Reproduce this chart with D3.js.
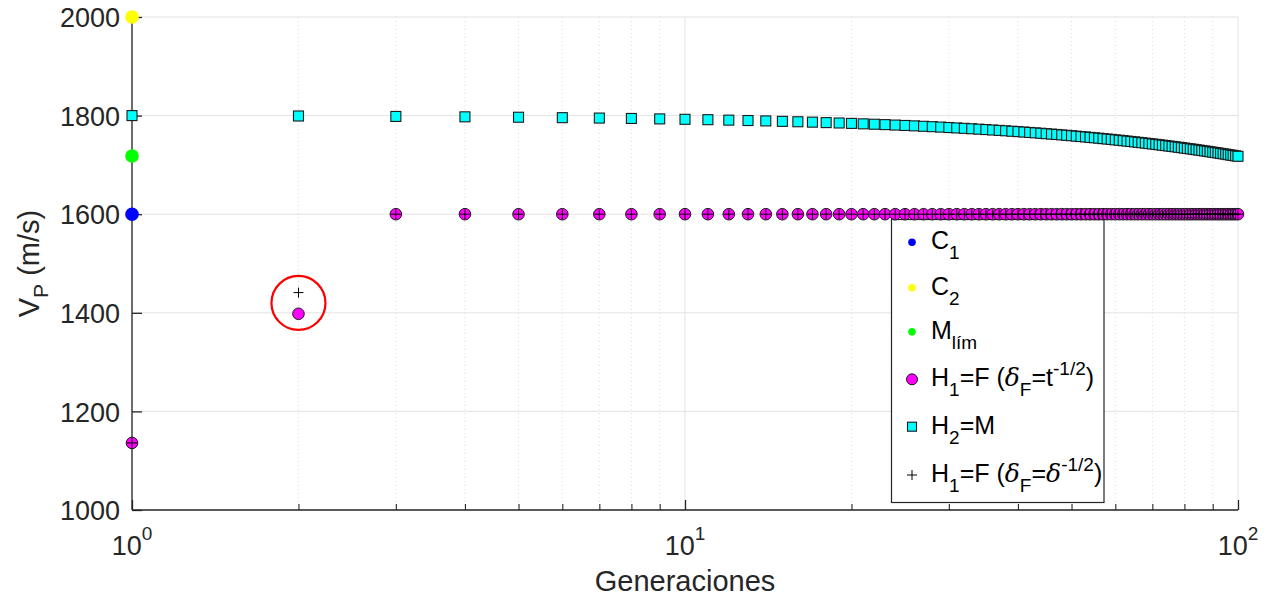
<!DOCTYPE html>
<html>
<head>
<meta charset="utf-8">
<script src="https://cdn.jsdelivr.net/npm/d3@7"></script>
<style>
  html, body { margin: 0; padding: 0; background: #fff; }
  svg { display: block; font-family: "Liberation Sans", Arial, Helvetica, sans-serif; }
</style>
</head>
<body>
<svg id="chart" width="1268" height="602"></svg>
<script>
// Generations on the x axis (1 … 100)
const generations = d3.range(1, 101);

// Reference single points at generation 1
const c1Value = 1600;
const c2Value = 2000;
const mLimValue = 1718;

// H1 = F, δF = t^-1/2
const h1Values = [1136, 1398,
  1600, 1600, 1600, 1600, 1600, 1600, 1600, 1600, 1600, 1600,
  1600, 1600, 1600, 1600, 1600, 1600, 1600, 1600, 1600, 1600,
  1600, 1600, 1600, 1600, 1600, 1600, 1600, 1600, 1600, 1600,
  1600, 1600, 1600, 1600, 1600, 1600, 1600, 1600, 1600, 1600,
  1600, 1600, 1600, 1600, 1600, 1600, 1600, 1600, 1600, 1600,
  1600, 1600, 1600, 1600, 1600, 1600, 1600, 1600, 1600, 1600,
  1600, 1600, 1600, 1600, 1600, 1600, 1600, 1600, 1600, 1600,
  1600, 1600, 1600, 1600, 1600, 1600, 1600, 1600, 1600, 1600,
  1600, 1600, 1600, 1600, 1600, 1600, 1600, 1600, 1600, 1600,
  1600, 1600, 1600, 1600, 1600, 1600, 1600, 1600];

// H2 = M
const h2Values = [
  1800.0, 1799.2, 1798.3, 1797.5, 1796.7, 1795.8, 1795.0, 1794.2, 1793.3, 1792.5,
  1791.7, 1790.8, 1790.0, 1789.2, 1788.3, 1787.5, 1786.7, 1785.8, 1785.0, 1784.2,
  1783.3, 1782.5, 1781.7, 1780.8, 1780.0, 1779.2, 1778.3, 1777.5, 1776.7, 1775.8,
  1775.0, 1774.2, 1773.3, 1772.5, 1771.7, 1770.8, 1770.0, 1769.2, 1768.3, 1767.5,
  1766.7, 1765.8, 1765.0, 1764.2, 1763.3, 1762.5, 1761.7, 1760.8, 1760.0, 1759.2,
  1758.3, 1757.5, 1756.7, 1755.8, 1755.0, 1754.2, 1753.3, 1752.5, 1751.7, 1750.8,
  1750.0, 1749.2, 1748.3, 1747.5, 1746.7, 1745.8, 1745.0, 1744.2, 1743.3, 1742.5,
  1741.7, 1740.8, 1740.0, 1739.2, 1738.3, 1737.5, 1736.7, 1735.8, 1735.0, 1734.2,
  1733.3, 1732.5, 1731.7, 1730.8, 1730.0, 1729.2, 1728.3, 1727.5, 1726.7, 1725.8,
  1725.0, 1724.2, 1723.3, 1722.5, 1721.7, 1720.8, 1720.0, 1719.2, 1718.3, 1717.5];

// H1 = F, δF = δ^-1/2
const h1DeltaValues = [1136, 1441,
  1600, 1600, 1600, 1600, 1600, 1600, 1600, 1600, 1600, 1600,
  1600, 1600, 1600, 1600, 1600, 1600, 1600, 1600, 1600, 1600,
  1600, 1600, 1600, 1600, 1600, 1600, 1600, 1600, 1600, 1600,
  1600, 1600, 1600, 1600, 1600, 1600, 1600, 1600, 1600, 1600,
  1600, 1600, 1600, 1600, 1600, 1600, 1600, 1600, 1600, 1600,
  1600, 1600, 1600, 1600, 1600, 1600, 1600, 1600, 1600, 1600,
  1600, 1600, 1600, 1600, 1600, 1600, 1600, 1600, 1600, 1600,
  1600, 1600, 1600, 1600, 1600, 1600, 1600, 1600, 1600, 1600,
  1600, 1600, 1600, 1600, 1600, 1600, 1600, 1600, 1600, 1600,
  1600, 1600, 1600, 1600, 1600, 1600, 1600, 1600];

// Highlight ring around generation 2
const highlightGen = 2;
const highlightValue = 1420;

// Axis ticks
const yTicks = [1000, 1200, 1400, 1600, 1800, 2000];
const xMajorTicks = [1, 10, 100];
const xMajorExponents = ["0", "1", "2"];
const xMinorTicks = [2, 3, 4, 5, 6, 7, 8, 9, 20, 30, 40, 50, 60, 70, 80, 90];

const svg = d3.select("#chart");
const plotLeft = 132, plotRight = 1238, plotTop = 17, plotBottom = 510;
const axisColor = "#262626";

const x = d3.scaleLog().domain([1, 100]).range([plotLeft, plotRight]);
const y = d3.scaleLinear().domain([1000, 2000]).range([plotBottom, plotTop]);

// Grid
const grid = svg.append("g");
grid.selectAll(".gy").data(yTicks).join("line")
  .attr("x1", plotLeft).attr("x2", plotRight)
  .attr("y1", d => y(d)).attr("y2", d => y(d))
  .attr("stroke", "#e3e3e3").attr("stroke-width", 1);
grid.selectAll(".gxm").data(xMinorTicks).join("line")
  .attr("x1", d => x(d)).attr("x2", d => x(d))
  .attr("y1", plotTop).attr("y2", plotBottom)
  .attr("stroke", "#dcdcdc").attr("stroke-width", 1)
  .attr("stroke-dasharray", "1,3");
grid.selectAll(".gxM").data(xMajorTicks).join("line")
  .attr("x1", d => x(d)).attr("x2", d => x(d))
  .attr("y1", plotTop).attr("y2", plotBottom)
  .attr("stroke", "#e3e3e3").attr("stroke-width", 1);

// Axes via d3-axis, styled like a box-off axes
const yAxis = d3.axisLeft(y).tickValues(yTicks).tickSize(-10).tickPadding(12).tickFormat(d3.format("d"));
const gy = svg.append("g").attr("transform", `translate(${plotLeft},0)`).call(yAxis);
gy.select(".domain").attr("stroke", axisColor).attr("stroke-width", 1.3).attr("d", `M0,${plotTop}V${plotBottom}`);
gy.selectAll(".tick line").attr("stroke", axisColor).attr("stroke-width", 1.3);
gy.selectAll(".tick text").attr("fill", axisColor).attr("font-size", 27)
  .attr("font-family", "Liberation Sans, Arial, sans-serif").attr("dy", "0.36em");

const xAxis = d3.axisBottom(x).tickValues(xMajorTicks).tickSize(-10).tickFormat("");
const gx = svg.append("g").attr("transform", `translate(0,${plotBottom})`).call(xAxis);
gx.select(".domain").attr("stroke", axisColor).attr("stroke-width", 1.3).attr("d", `M${plotLeft},0H${plotRight}`);
gx.selectAll(".tick line").attr("stroke", axisColor).attr("stroke-width", 1.3);

const xMinorAxis = d3.axisBottom(x).tickValues(xMinorTicks).tickSize(-6).tickFormat("");
const gxm = svg.append("g").attr("transform", `translate(0,${plotBottom})`).call(xMinorAxis);
gxm.select(".domain").remove();
gxm.selectAll(".tick line").attr("stroke", axisColor).attr("stroke-width", 1.1);

// Power-of-ten tick labels
const xl = svg.append("g");
xMajorTicks.forEach((t, i) => {
  const txt = xl.append("text")
    .attr("x", x(t)).attr("y", 555)
    .attr("text-anchor", "middle")
    .attr("fill", axisColor).attr("font-size", 27);
  txt.append("tspan").text("10");
  txt.append("tspan").attr("dy", -15).attr("font-size", 19).text(xMajorExponents[i]);
});

// Axis titles
svg.append("text")
  .attr("x", (plotLeft + plotRight) / 2).attr("y", 591)
  .attr("text-anchor", "middle").attr("fill", axisColor).attr("font-size", 29)
  .text("Generaciones");

const yl = svg.append("text")
  .attr("transform", `translate(39,${(plotTop + plotBottom) / 2}) rotate(-90)`)
  .attr("text-anchor", "middle").attr("fill", axisColor).attr("font-size", 29);
yl.append("tspan").text("V");
yl.append("tspan").attr("dy", 9).attr("font-size", 21).text("P");
yl.append("tspan").attr("dy", -9).text(" (m/s)");

// Legend box (drawn under the markers)
const lg = svg.append("g");
lg.append("rect")
  .attr("x", 891.5).attr("y", 219.5).attr("width", 212.5).attr("height", 283)
  .attr("fill", "#fff").attr("stroke", axisColor).attr("stroke-width", 1.2);

// Series markers
const h2Data = generations.map((g, i) => ({ g, v: h2Values[i] }));
const h1Data = generations.map((g, i) => ({ g, v: h1Values[i] }));
const h1dData = generations.map((g, i) => ({ g, v: h1DeltaValues[i] }));

svg.append("g").selectAll("rect").data(h2Data).join("rect")
  .attr("x", d => x(d.g) - 5).attr("y", d => y(d.v) - 5)
  .attr("width", 10).attr("height", 10)
  .attr("fill", "#00ffff").attr("stroke", "#1a1a1a").attr("stroke-width", 1.1);

svg.append("g").selectAll("circle").data(h1Data).join("circle")
  .attr("cx", d => x(d.g)).attr("cy", d => y(d.v)).attr("r", 5.8)
  .attr("fill", "#ff00ff").attr("stroke", "#1a1a1a").attr("stroke-width", 1);

svg.append("g").selectAll("path").data(h1dData).join("path")
  .attr("d", d => `M${x(d.g) - 5},${y(d.v)}H${x(d.g) + 5}M${x(d.g)},${y(d.v) - 5}V${y(d.v) + 5}`)
  .attr("stroke", "#000").attr("stroke-width", 1).attr("fill", "none");

const singles = [
  { v: c2Value, c: "#ffff00" },
  { v: mLimValue, c: "#00ff00" },
  { v: c1Value, c: "#0000ff" }
];
svg.append("g").selectAll("circle").data(singles).join("circle")
  .attr("cx", x(1)).attr("cy", d => y(d.v)).attr("r", 6.8)
  .attr("fill", d => d.c);

// Highlight ring
svg.append("circle")
  .attr("cx", x(highlightGen)).attr("cy", y(highlightValue)).attr("r", 27)
  .attr("fill", "none").attr("stroke", "#ff0000").attr("stroke-width", 2.2);

// Legend entries
const mx = 912, tx = 931;
const rowY = [242.3, 287.7, 331.7, 379.3, 426.7, 475];
function entryText(yy) {
  return lg.append("text").attr("x", tx).attr("y", yy + 7)
    .attr("fill", "#000").attr("font-size", 25);
}
function sub(t, s) { t.append("tspan").attr("dy", 10).attr("font-size", 19).text(s); }
function unsub(t, s) { t.append("tspan").attr("dy", -10).text(s); }

[["#0000ff", "C", "1"], ["#ffff00", "C", "2"], ["#00ff00", "M", "lím"]].forEach((e, i) => {
  lg.append("circle").attr("cx", mx).attr("cy", rowY[i]).attr("r", 3.8).attr("fill", e[0]);
  const t = entryText(rowY[i]);
  t.append("tspan").text(e[1]);
  sub(t, e[2]);
});

// H1=F (δF=t^-1/2)
lg.append("circle").attr("cx", mx).attr("cy", rowY[3]).attr("r", 5.5)
  .attr("fill", "#ff00ff").attr("stroke", "#1a1a1a").attr("stroke-width", 1);
{
  const t = entryText(rowY[3]);
  t.append("tspan").text("H");
  sub(t, "1");
  unsub(t, "=F (");
  t.append("tspan").attr("font-style", "italic").attr("font-family", "DejaVu Serif, serif").text("δ");
  sub(t, "F");
  unsub(t, "=t");
  t.append("tspan").attr("dy", -11).attr("font-size", 19).text("-1/2");
  t.append("tspan").attr("dy", 11).text(")");
}

// H2=M
lg.append("rect").attr("x", mx - 4.5).attr("y", rowY[4] - 4.5).attr("width", 9).attr("height", 9)
  .attr("fill", "#00ffff").attr("stroke", "#1a1a1a").attr("stroke-width", 1.1);
{
  const t = entryText(rowY[4]);
  t.append("tspan").text("H");
  sub(t, "2");
  unsub(t, "=M");
}

// H1=F (δF=δ^-1/2)
lg.append("path")
  .attr("d", `M${mx - 5},${rowY[5]}H${mx + 5}M${mx},${rowY[5] - 5}V${rowY[5] + 5}`)
  .attr("stroke", "#000").attr("stroke-width", 1);
{
  const t = entryText(rowY[5]);
  t.append("tspan").text("H");
  sub(t, "1");
  unsub(t, "=F (");
  t.append("tspan").attr("font-style", "italic").attr("font-family", "DejaVu Serif, serif").text("δ");
  sub(t, "F");
  unsub(t, "=");
  t.append("tspan").attr("font-style", "italic").attr("font-family", "DejaVu Serif, serif").text("δ");
  t.append("tspan").attr("dy", -11).attr("font-size", 19).text("-1/2");
  t.append("tspan").attr("dy", 11).text(")");
}
</script>
</body>
</html>
